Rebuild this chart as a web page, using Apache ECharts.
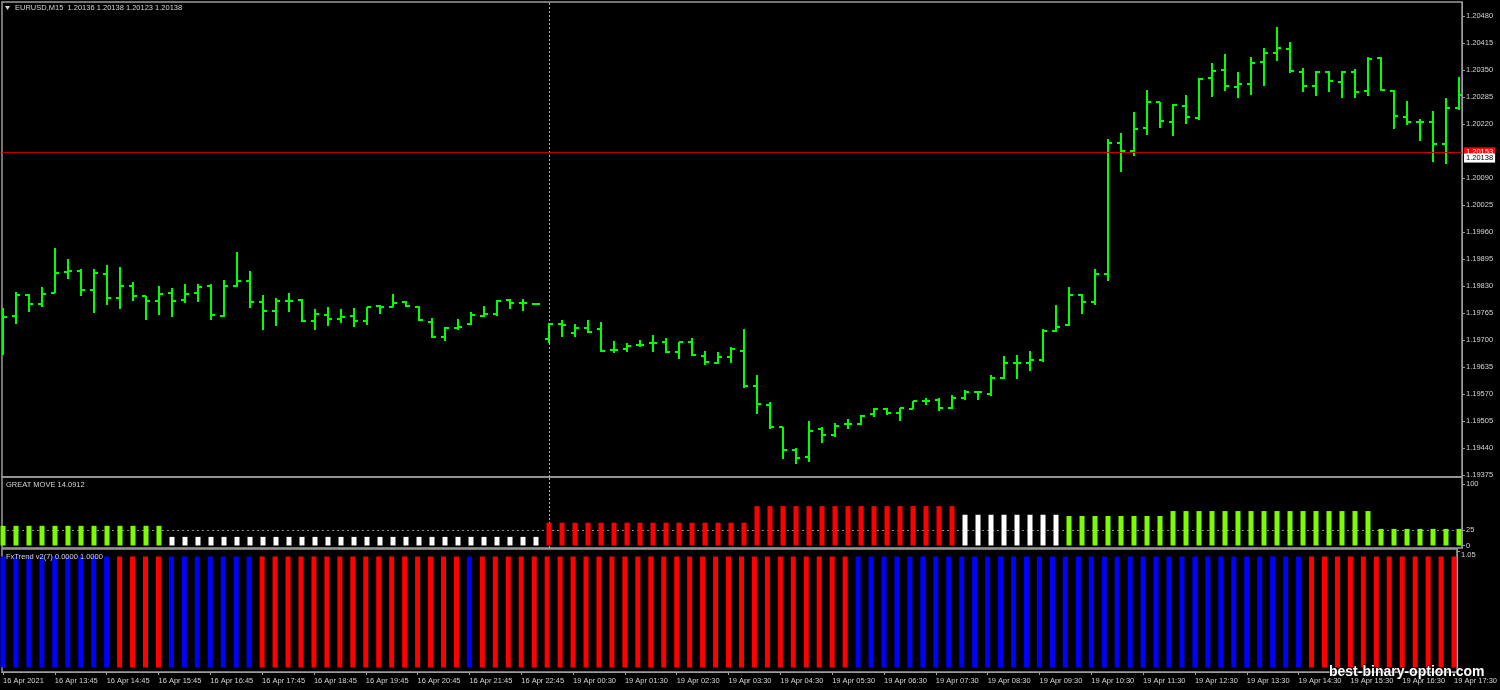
<!DOCTYPE html>
<html><head><meta charset="utf-8">
<script src="https://cdn.jsdelivr.net/npm/echarts@6/dist/echarts.min.js"></script>
<style>html,body{margin:0;padding:0;background:#000;}#c{width:1500px;height:690px;}</style>
</head><body><div id="c"></div>
<script>
// ---------- DATA ----------
const symbolTitle = 'EURUSD,M15  1.20136 1.20138 1.20123 1.20138';
const gmTitle = 'GREAT MOVE 14.0912';
const fxTitle = 'FxTrend v2(7) 0.0000 1.0000';
const watermark = 'best-binary-option.com';

const tickBars = [0,4,8,12,16,20,24,28,32,36,40,44,48,52,56,60,64,68,72,76,80,84,88,92,96,100,104,108,112];
const tickLabels = ['16 Apr 2021','16 Apr 13:45','16 Apr 14:45','16 Apr 15:45','16 Apr 16:45','16 Apr 17:45','16 Apr 18:45','16 Apr 19:45','16 Apr 20:45','16 Apr 21:45','16 Apr 22:45',
  '19 Apr 00:30','19 Apr 01:30','19 Apr 02:30','19 Apr 03:30','19 Apr 04:30','19 Apr 05:30','19 Apr 06:30','19 Apr 07:30','19 Apr 08:30','19 Apr 09:30','19 Apr 10:30','19 Apr 11:30','19 Apr 12:30','19 Apr 13:30','19 Apr 14:30','19 Apr 15:30','19 Apr 16:30','19 Apr 17:30'];
const daySeparatorBar = 42;

const priceTicks = [1.20480,1.20415,1.20350,1.20285,1.20220,1.20090,1.20025,1.19960,1.19895,1.19830,1.19765,1.19700,1.19635,1.19570,1.19505,1.19440,1.19375];
const askPrice = 1.20153;
const bidPrice = 1.20138;
const gmTicks = [100,25,0];
const gmLevel = 25;
const fxTicks = [1.05];

const open = [1.19688,1.19758,1.19808,1.19787,1.19814,1.19863,1.19867,1.19821,1.19860,1.19802,
1.19829,1.19806,1.19794,1.19813,1.19796,1.19814,1.19830,1.19758,1.19830,1.19842,
1.19791,1.19770,1.19794,1.19796,1.19746,1.19760,1.19750,1.19758,1.19746,1.19782,
1.19780,1.19792,1.19780,1.19743,1.19708,1.19730,1.19738,1.19758,1.19763,1.19796,
1.19788,1.19786,1.19703,1.19738,1.19716,1.19730,1.19727,1.19676,1.19678,1.19688,
1.19692,1.19696,1.19672,1.19695,1.19662,1.19644,1.19658,1.19674,1.19590,1.19544,
1.19491,1.19434,1.19419,1.19485,1.19471,1.19497,1.19498,1.19521,1.19534,1.19524,
1.19534,1.19554,1.19556,1.19536,1.19561,1.19576,1.19569,1.19608,1.19644,1.19644,
1.19652,1.19722,1.19735,1.19808,1.19791,1.19858,1.20174,1.20155,1.20210,1.20272,
1.20226,1.20264,1.20235,1.20330,1.20350,1.20310,1.20316,1.20369,1.20390,1.20401,
1.20346,1.20312,1.20346,1.20320,1.20345,1.20300,1.20378,1.20300,1.20238,1.20224,
1.20224,1.20171,1.20258];
const high = [1.19777,1.19816,1.19810,1.19828,1.19921,1.19894,1.19870,1.19872,1.19880,1.19875,
1.19840,1.19806,1.19831,1.19825,1.19835,1.19834,1.19834,1.19845,1.19913,1.19866,
1.19808,1.19800,1.19813,1.19799,1.19774,1.19780,1.19774,1.19776,1.19780,1.19784,
1.19811,1.19794,1.19782,1.19752,1.19732,1.19750,1.19768,1.19782,1.19796,1.19798,
1.19798,1.19787,1.19740,1.19748,1.19738,1.19748,1.19743,1.19698,1.19692,1.19700,
1.19712,1.19704,1.19696,1.19704,1.19674,1.19670,1.19684,1.19726,1.19616,1.19550,
1.19491,1.19441,1.19505,1.19490,1.19501,1.19510,1.19520,1.19536,1.19536,1.19537,
1.19554,1.19561,1.19560,1.19568,1.19580,1.19578,1.19616,1.19662,1.19664,1.19674,
1.19726,1.19784,1.19828,1.19811,1.19871,1.20184,1.20199,1.20248,1.20302,1.20274,
1.20267,1.20290,1.20330,1.20368,1.20388,1.20344,1.20381,1.20402,1.20454,1.20417,
1.20354,1.20348,1.20348,1.20348,1.20352,1.20381,1.20381,1.20302,1.20275,1.20232,
1.20251,1.20283,1.20332];
const low = [1.19664,1.19738,1.19768,1.19779,1.19812,1.19846,1.19807,1.19764,1.19785,1.19774,
1.19795,1.19748,1.19760,1.19756,1.19790,1.19791,1.19747,1.19755,1.19828,1.19778,
1.19724,1.19734,1.19768,1.19744,1.19723,1.19734,1.19740,1.19731,1.19735,1.19762,
1.19779,1.19779,1.19746,1.19706,1.19698,1.19724,1.19735,1.19756,1.19758,1.19774,
1.19770,1.19785,1.19692,1.19708,1.19708,1.19716,1.19672,1.19668,1.19672,1.19682,
1.19670,1.19668,1.19654,1.19662,1.19640,1.19642,1.19644,1.19584,1.19521,1.19485,
1.19413,1.19401,1.19407,1.19451,1.19466,1.19485,1.19496,1.19514,1.19520,1.19506,
1.19533,1.19544,1.19530,1.19534,1.19556,1.19556,1.19566,1.19606,1.19605,1.19625,
1.19648,1.19719,1.19734,1.19763,1.19784,1.19843,1.20105,1.20143,1.20194,1.20210,
1.20192,1.20219,1.20230,1.20284,1.20300,1.20282,1.20290,1.20312,1.20372,1.20342,
1.20296,1.20288,1.20298,1.20282,1.20282,1.20288,1.20300,1.20208,1.20218,1.20179,
1.20129,1.20124,1.20254];
const close = [1.19756,1.19808,1.19787,1.19810,1.19861,1.19866,1.19820,1.19861,1.19802,1.19831,
1.19807,1.19794,1.19811,1.19795,1.19811,1.19828,1.19760,1.19830,1.19842,1.19792,
1.19770,1.19794,1.19793,1.19746,1.19762,1.19751,1.19756,1.19746,1.19779,1.19780,
1.19790,1.19782,1.19747,1.19707,1.19730,1.19732,1.19760,1.19763,1.19795,1.19788,
1.19788,1.19786,1.19738,1.19735,1.19730,1.19719,1.19674,1.19676,1.19686,1.19688,
1.19692,1.19670,1.19694,1.19664,1.19646,1.19660,1.19678,1.19590,1.19546,1.19490,
1.19434,1.19417,1.19482,1.19471,1.19494,1.19497,1.19518,1.19534,1.19524,1.19536,
1.19552,1.19554,1.19536,1.19560,1.19576,1.19574,1.19608,1.19644,1.19644,1.19652,
1.19722,1.19732,1.19808,1.19791,1.19858,1.20175,1.20156,1.20207,1.20274,1.20227,
1.20266,1.20238,1.20328,1.20348,1.20312,1.20316,1.20368,1.20390,1.20402,1.20348,
1.20312,1.20345,1.20324,1.20345,1.20298,1.20377,1.20302,1.20240,1.20224,1.20224,
1.20172,1.20259,1.20290];

// GREAT MOVE histogram: value and buffer (G = up/green, W = neutral/white, R = red)
const gmValue = [32,32,32,32,32,32,32,32,32,32,
32,32,32,14,14,14,14,14,14,14,
14,14,14,14,14,14,14,14,14,14,
14,14,14,14,14,14,14,14,14,14,
14,14,37,37,37,37,37,37,37,37,
37,37,37,37,37,37,37,37,64,64,
64,64,64,64,64,64,64,64,64,64,
64,64,64,64,50,50,50,50,50,50,
50,50,48,48,48,48,48,48,48,48,
56,56,56,56,56,56,56,56,56,56,
56,56,56,56,56,56,27,27,27,27,
27,27,27];
const gmState = ['G','G','G','G','G','G','G','G','G','G',
'G','G','G','W','W','W','W','W','W','W',
'W','W','W','W','W','W','W','W','W','W',
'W','W','W','W','W','W','W','W','W','W',
'W','W','R','R','R','R','R','R','R','R',
'R','R','R','R','R','R','R','R','R','R',
'R','R','R','R','R','R','R','R','R','R',
'R','R','R','R','W','W','W','W','W','W',
'W','W','G','G','G','G','G','G','G','G',
'G','G','G','G','G','G','G','G','G','G',
'G','G','G','G','G','G','G','G','G','G',
'G','G','G'];
// FxTrend: 1 = up buffer (blue), -1 = down buffer (red)
const fxDir = [1,1,1,1,1,1,1,1,1,-1,
-1,-1,-1,1,1,1,1,1,1,1,
-1,-1,-1,-1,-1,-1,-1,-1,-1,-1,
-1,-1,-1,-1,-1,-1,1,-1,-1,-1,
-1,-1,-1,-1,-1,-1,-1,-1,-1,-1,
-1,-1,-1,-1,-1,-1,-1,-1,-1,-1,
-1,-1,-1,-1,-1,-1,1,1,1,1,
1,1,1,1,1,1,1,1,1,1,
1,1,1,1,1,1,1,1,1,1,
1,1,1,1,1,1,1,1,1,1,
1,-1,-1,-1,-1,-1,-1,-1,-1,-1,
-1,-1,-1];

// ---------- STYLE ----------
const FONT = '"Liberation Sans", Arial, sans-serif';
const TXT = '#d4d4d4';
const FRAME = '#9c9c9c';
const gmColors = {G:'#7cfc00', W:'#ffffff', R:'#ff0000'};
const fxColors = {'1':'#0000ff', '-1':'#ff0000'};

const X_MIN = -0.077, X_MAX = 112.23;
const PX_PER_POINT = 0.00065 / 27;

const chart = echarts.init(document.getElementById('c'), null, {renderer:'canvas'});

const ohlcData = open.map((o, i) => [i, o, high[i], low[i], close[i]]);
const closeData = close.map((c, i) => [i, c]);
const gmData = gmValue.map((v, i) => ({value:[i, v], itemStyle:{color: gmColors[gmState[i]]}}));
const fxData = fxDir.map((d, i) => ({value:[i, 1], itemStyle:{color: fxColors[String(d)]}}));

function renderOHLC(params, api) {
  const i = api.value(0);
  const po = api.coord([i, api.value(1)]);
  const ph = api.coord([i, api.value(2)]);
  const pl = api.coord([i, api.value(3)]);
  const pc = api.coord([i, api.value(4)]);
  const x = Math.round(po[0]);
  let y1 = Math.round(ph[1]), y2 = Math.round(pl[1]);
  if (y2 - y1 < 1) y2 = y1 + 1;
  const yo = Math.round(po[1]), yc = Math.round(pc[1]);
  const st = {stroke:'#00ff00', lineWidth:2};
  return {type:'group', children:[
    {type:'line', shape:{x1:x, y1:y1, x2:x, y2:y2}, style:st},
    {type:'line', shape:{x1:x-4, y1:yo, x2:x, y2:yo}, style:st},
    {type:'line', shape:{x1:x, y1:yc, x2:x+4, y2:yc}, style:st}
  ]};
}

const pMax = priceTicks[0] + 14 * PX_PER_POINT;
const pMin = priceTicks[priceTicks.length-1] - 2 * PX_PER_POINT;

const yLabel = {color:TXT, fontSize:7.5, fontFamily:FONT, margin:4};
function xAxisFor(gi, showLabels) {
  return {
    type:'value', gridIndex:gi, min:X_MIN, max:X_MAX,
    splitLine:{show:false},
    axisLine:{show:showLabels, onZero:false, lineStyle:{color:FRAME, width:1}},
    axisTick:{show:showLabels, inside:false, customValues:tickBars, length:3, lineStyle:{color:FRAME}},
    axisLabel:{show:showLabels, customValues:tickBars, align:'left', margin:5,
      color:TXT, fontSize:7.5, fontFamily:FONT,
      formatter:(v)=>{const k = tickBars.indexOf(Math.round(v)); return k>=0 ? tickLabels[k] : '';}}
  };
}
function yAxisFor(gi, mn, mx, ticks, fmt, extra) {
  return {type:'value', gridIndex:gi, position:'right', min:mn, max:mx, splitLine:{show:false},
    axisLine:{show:true, onZero:false, lineStyle:{color:FRAME}},
    axisTick:{show:true, inside:false, customValues:ticks, length:3, lineStyle:{color:FRAME}},
    axisLabel:Object.assign({customValues:ticks, formatter:fmt}, yLabel, extra || {})};
}
const priceTag = (txt, fg, bg) => ({show:true, position:'end', distance:2, formatter:txt, color:fg,
  backgroundColor:bg, padding:[1,2,0,2], fontSize:7.5, fontFamily:FONT, lineHeight:8});

const option = {
  backgroundColor:'#000000',
  animation:false,
  grid:[
    {left:2, top:2, width:1460, height:475, show:true, borderColor:FRAME, borderWidth:1.5},
    {left:2, top:477, width:1460, height:71, show:true, borderColor:FRAME, borderWidth:1.5},
    {left:2, top:549, width:1460, height:123, show:true, borderColor:FRAME, borderWidth:1.5}
  ],
  xAxis:[xAxisFor(0,false), xAxisFor(1,false), xAxisFor(2,true)],
  yAxis:[
    yAxisFor(0, pMin, pMax, priceTicks, (v)=>v.toFixed(5)),
    yAxisFor(1, -4.07, 111.38, gmTicks, (v)=>String(v)),
    yAxisFor(2, -0.0405, 1.0676, fxTicks, (v)=>v.toFixed(2), {verticalAlign:'top'})
  ],
  series:[
    {type:'line', name:'levels', xAxisIndex:0, yAxisIndex:0, data:closeData, showSymbol:false, symbol:'none',
      lineStyle:{opacity:0}, silent:true, z:2,
      markLine:{symbol:'none', silent:true, animation:false, precision:5,
        data:[
          {xAxis:daySeparatorBar, lineStyle:{color:'#b8b8b8', type:[2,2], width:1}, label:{show:false}},
          {yAxis:askPrice, lineStyle:{color:'#c00000', width:1, type:'solid'}, label:priceTag(askPrice.toFixed(5), '#ffffff', '#ff0000')}
        ]}},
    {type:'line', name:'bid', xAxisIndex:0, yAxisIndex:0, data:closeData, showSymbol:false, symbol:'none',
      lineStyle:{opacity:0}, silent:true, z:4,
      markLine:{symbol:'none', silent:true, animation:false, precision:5,
        data:[
          {yAxis:bidPrice, lineStyle:{color:'rgba(0,0,0,0)', width:1, type:'solid'}, label:priceTag(bidPrice.toFixed(5), '#000000', '#ffffff')}
        ]}},
    {type:'custom', name:'EURUSD', xAxisIndex:0, yAxisIndex:0, renderItem:renderOHLC,
      encode:{x:0, y:[1,2,3,4]}, data:ohlcData, clip:true, z:3},
    {type:'bar', name:'GREAT MOVE', xAxisIndex:1, yAxisIndex:1, barWidth:5, data:gmData, z:3,
      markLine:{symbol:'none', silent:true, animation:false, z:2, precision:2,
        data:[
          {yAxis:gmLevel, lineStyle:{color:'#8a8a8a', type:[2,3], width:1}, label:{show:false}},
          {xAxis:daySeparatorBar, lineStyle:{color:'#b8b8b8', type:[2,2], width:1}, label:{show:false}}
        ]}},
    {type:'bar', name:'FxTrend', xAxisIndex:2, yAxisIndex:2, barWidth:5, data:fxData, z:3}
  ],
  graphic:[
    {type:'polygon', shape:{points:[[5,6],[10,6],[7.5,10]]}, style:{fill:TXT}, z:10},
    {type:'text', x:15, y:8, style:{text:symbolTitle, fill:TXT, font:'7.5px '+FONT, verticalAlign:'middle'}, z:10},
    {type:'text', x:6, y:484.5, style:{text:gmTitle, fill:TXT, font:'7.5px '+FONT, verticalAlign:'middle'}, z:10},
    {type:'text', x:6, y:556.5, style:{text:fxTitle, fill:TXT, font:'7.5px '+FONT, verticalAlign:'middle'}, z:10},
    {type:'text', x:1329, y:672, style:{text:watermark, fill:'#ffffff', font:'bold 14px '+FONT, verticalAlign:'middle',
      stroke:'#000000', lineWidth:1}, z:20}
  ]
};
chart.setOption(option);
</script>
</body></html>
